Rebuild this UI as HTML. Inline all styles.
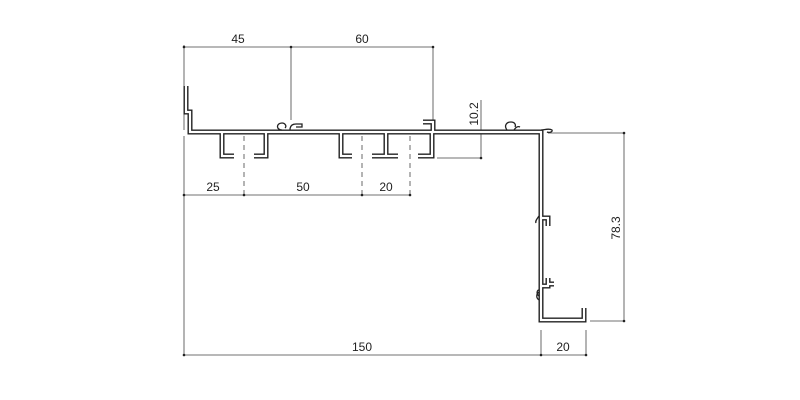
<!DOCTYPE html>
<html><head><style>body{margin:0;background:#fff}svg{display:block}text{font-family:"Liberation Sans",sans-serif;font-size:12px;fill:#222}</style></head>
<body>
<svg width="800" height="400" viewBox="0 0 800 400">
<g stroke="#444" stroke-width="0.8" fill="none">
<path d="M184,47H433M184,45V130M291,47V120M433,47V121"/>
<path d="M184,136V355M184,195H410M184,355H586"/>
<path d="M244,136V195M362,136V195M410,136V195" stroke-dasharray="5,4"/>
<path d="M541,330V355M586,330V355"/>
<path d="M437,158H481M481,100V158"/>
<path d="M548,133H624M590,321H624M624,133V321"/>
</g>
<g fill="#222">
<circle cx="184" cy="47" r="1.3"/><circle cx="291" cy="47" r="1.3"/><circle cx="433" cy="47" r="1.3"/>
<circle cx="184" cy="195" r="1.3"/><circle cx="244" cy="195" r="1.3"/><circle cx="362" cy="195" r="1.3"/><circle cx="410" cy="195" r="1.3"/>
<circle cx="184" cy="355" r="1.3"/><circle cx="541" cy="355" r="1.3"/><circle cx="586" cy="355" r="1.3"/>
<circle cx="481" cy="133" r="1.3"/><circle cx="481" cy="158" r="1.3"/>
<circle cx="624" cy="133" r="1.3"/><circle cx="624" cy="321" r="1.3"/>
</g>
<defs>
<path id="p" d="M186,86V112H190V132H541V320H584V308
M222,132V156H234M266,132V156H254M341,132V156H352M386,132V156H372M386,156H398M432,132V156H418
M433,132V122H423M541,218H548V226M541,286H548V278M548,284H554"/>
</defs>
<use href="#p" stroke="#222" stroke-width="5" fill="none"/>
<use href="#p" stroke="#fff" stroke-width="2.2" fill="none"/>
<g stroke="#222" stroke-width="1.3" fill="none">
<path d="M282,130c-6,0-6,-7,0,-7c3,0 5,3 3,5M290,130c0,-4 2,-6 6,-6h6v3h-6"/>
<path d="M507,130c-3,-4-1,-8 4,-8c4,0 5,3 4,5M514,130c2,-3 4,-4 6,-3"/>
<path d="M541,130c3,0 8,-2 11,0c1,2 -3,3 -5,2"/>
<path d="M539,216c-2,3-4,5-3,7M539,292c-3,2-3,6 0,8M539,296c-3,-2 -2,-6 0,-6"/>
</g>
<text x="238" y="43" text-anchor="middle">45</text>
<text x="362" y="43" text-anchor="middle">60</text>
<text x="213" y="191" text-anchor="middle">25</text>
<text x="303" y="191" text-anchor="middle">50</text>
<text x="386" y="191" text-anchor="middle">20</text>
<text x="362" y="351" text-anchor="middle">150</text>
<text x="563" y="351" text-anchor="middle">20</text>
<text transform="translate(478,114) rotate(-90)" text-anchor="middle">10.2</text>
<text transform="translate(620,228) rotate(-90)" text-anchor="middle">78.3</text>
</svg>
</body></html>
